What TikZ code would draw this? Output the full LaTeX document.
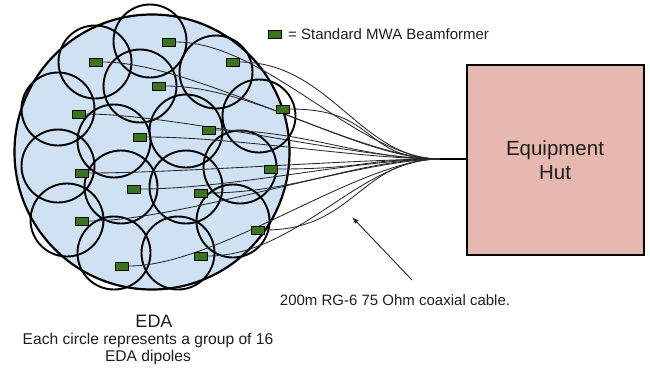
\documentclass[tikz,border=0pt]{standalone}
\usepackage{fontspec}
\setmainfont{Liberation Sans}
\usetikzlibrary{arrows.meta}
\begin{document}
\begin{tikzpicture}[x=1pt,y=-1pt,
  small/.style={draw=black,line width=1.9pt},
  bf/.style={draw=black,fill={rgb,255:red,56;green,118;blue,29},line width=1pt,minimum width=12.5pt,minimum height=8pt,inner sep=0pt,rectangle},
  cable/.style={draw={rgb,255:red,40;green,40;blue,40},line width=0.85pt},
  lbl/.style={inner sep=0pt,align=center,text={rgb,255:red,30;green,30;blue,30}}]
\useasboundingbox (0,0) rectangle (650,368);
\definecolor{edablue}{RGB}{207,226,243}
\definecolor{hutpink}{RGB}{230,184,175}
% big EDA circle
\node[draw=black,fill=edablue,line width=2.2pt,circle,minimum size=275pt,inner sep=0pt] (eda) at (152,152) {};
% sixteen small circles
\foreach \x/\y [count=\i] in {150/41,95/62,140/86,216/72,58/109,259/116,114/141,186/131,58/166,240/167,121/187,186/187,67/220,233/221,114/253,178/253}
  \node[small,circle,minimum size=73pt,inner sep=0pt] (c\i) at (\x,\y) {};
% convergence point
\coordinate (conv) at (440,159);
% beamformers
\foreach \x/\y [count=\i] in {169/42,96/62,233/62,159/86,283/109,79/114,209/130,140/137,271/169,82/173,134/189,201/193,82/221,258/230,201/256,122/266}
  \node[bf] (b\i) at (\x,\y) {};
% cables
\foreach \i in {1,...,16}
  \draw[cable] (b\i.east) .. controls +(90,0) and +(-80,0) .. (conv);
\foreach \i in {1,...,16}
  \node[bf] at (b\i) {};
% hut
\node[draw=black,fill=hutpink,line width=1.8pt,minimum width=177pt,minimum height=190pt,inner sep=0pt,anchor=north west] (hut) at (466,64) {};
\node[lbl,font=\fontsize{20.5}{24}\selectfont] (hutlbl) at (555,160) {Equipment\\Hut};
\draw[line width=1.4pt] (conv) -- (hut.west |- conv);
% legend
\node[bf] (leg) at (275,34) {};
\node[lbl,anchor=west,font=\fontsize{15}{17}\selectfont] (legtxt) at (288,34) {= Standard MWA Beamformer};
% cable label and arrow
\node[lbl,font=\fontsize{15}{17}\selectfont] (cablbl) at (395,300) {200m RG-6 75 Ohm coaxial cable.};
\coordinate (arrtail) at (412,280);
\coordinate (arrhead) at (352,217);
\draw[line width=0.9pt,draw={rgb,255:red,40;green,40;blue,40},-{Latex[length=7pt,width=5pt]}] (arrtail) -- (arrhead);
% EDA labels
\node[lbl,font=\fontsize{18}{20}\selectfont] (edalbl) at (154,321) {EDA};
\node[lbl,font=\fontsize{15.6}{16.5}\selectfont] (edadesc) at (148,349) {Each circle represents a group of 16\\EDA dipoles};
\end{tikzpicture}
\end{document}
